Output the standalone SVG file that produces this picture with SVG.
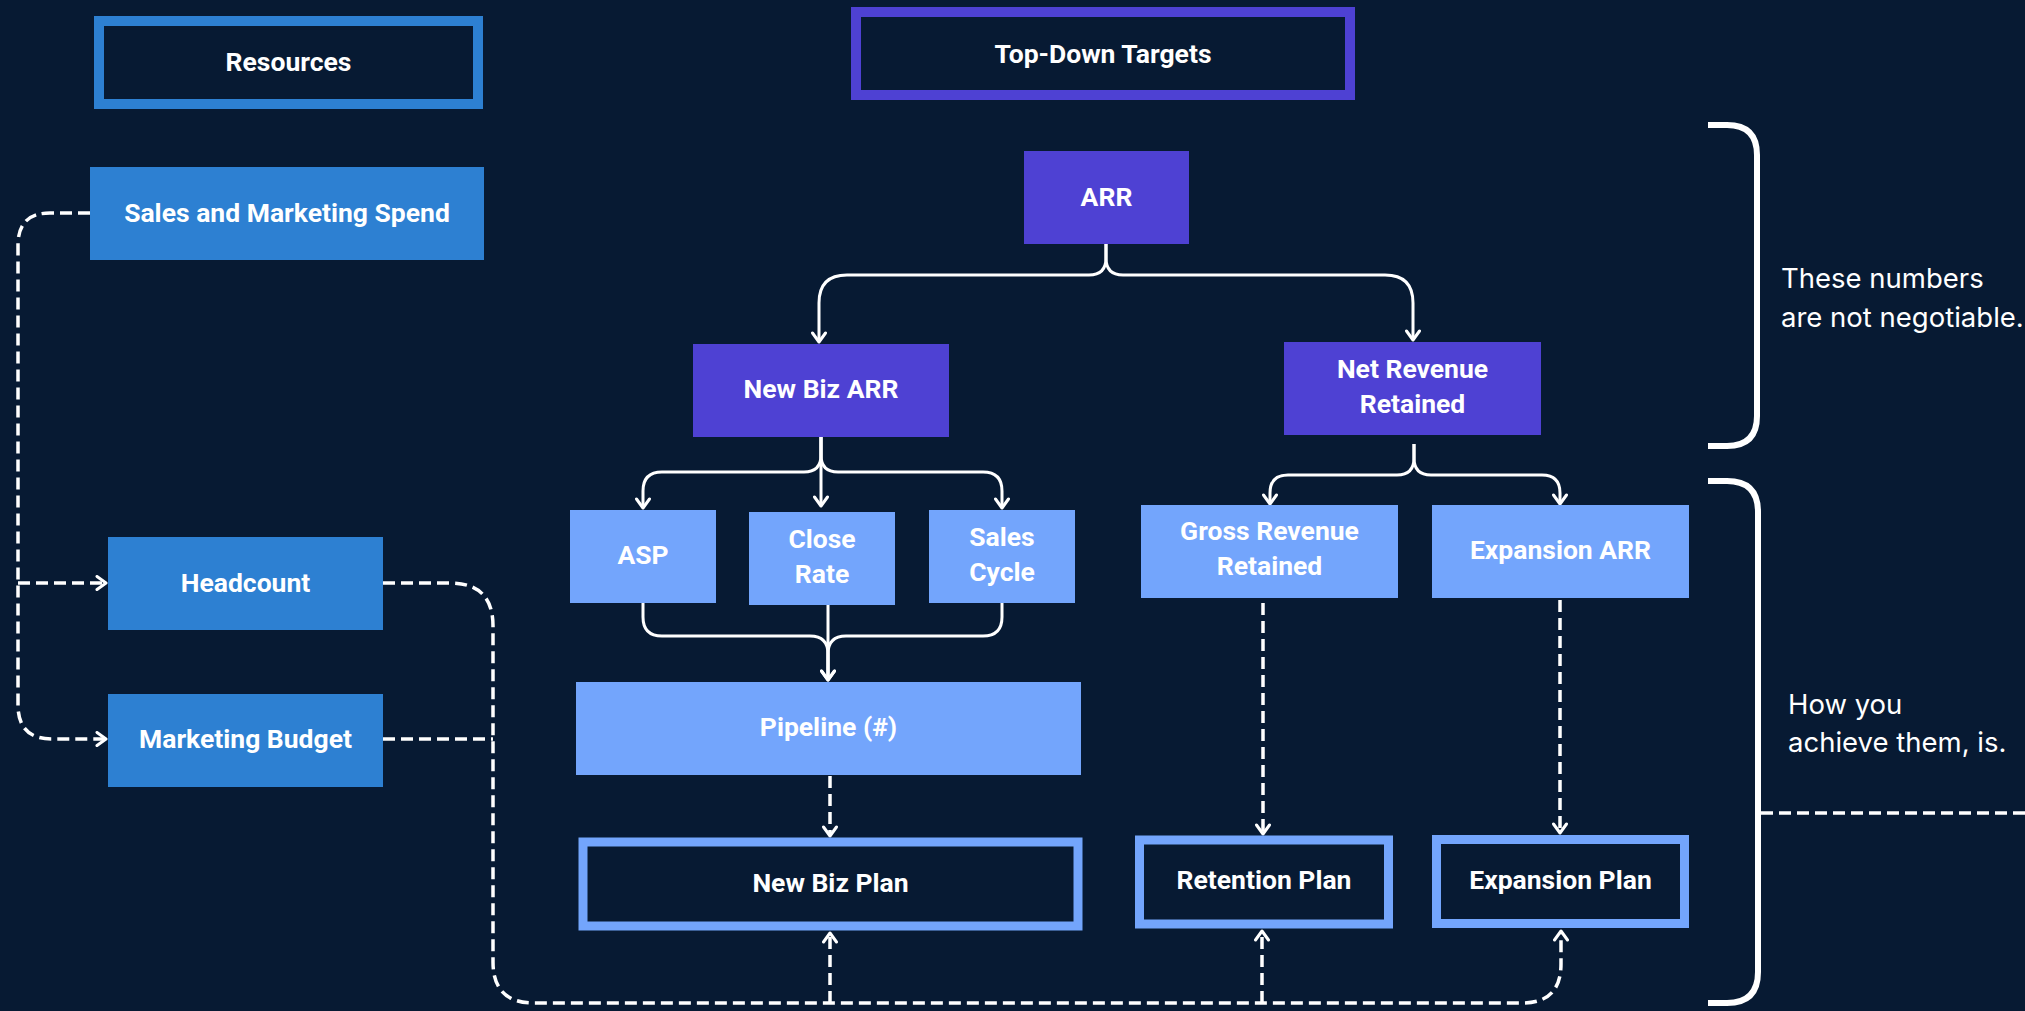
<svg xmlns="http://www.w3.org/2000/svg" width="2025" height="1011" viewBox="0 0 2025 1011">
<defs>
<style>
.bg{fill:#071a33}
.res{fill:#2d80d2}
.tgt{fill:#4e41d3}
.lt{fill:#73a5fc}
.hdr{fill:#071a33;stroke-width:10}
.plan{fill:#071a33;stroke:#73a5fc;stroke-width:9}
.t{font-family:Roboto,"Liberation Sans",sans-serif;font-weight:700;font-size:26.5px;fill:#ffffff;text-anchor:middle}
.note{font-family:Inter,"Liberation Sans",sans-serif;font-weight:400;font-size:27.5px;fill:#ffffff}
.ln{fill:none;stroke:#ffffff;stroke-width:3}
.dl{fill:none;stroke:#ffffff;stroke-width:3.5;stroke-dasharray:12 6}
.br{fill:none;stroke:#ffffff;stroke-width:6}
</style>
<marker id="ah" viewBox="0 0 16 16" refX="13" refY="8" markerWidth="16" markerHeight="16" markerUnits="userSpaceOnUse" orient="auto">
<path d="M4 1.5 L13 8 L4 14.5" fill="none" stroke="#ffffff" stroke-width="3" stroke-linecap="round" stroke-linejoin="round"/>
</marker>
</defs>
<rect class="bg" x="0" y="0" width="2025" height="1011"/>

<g id="connectors">
<path class="ln" d="M1106 244 V258 Q1106 275 1089 275 H847 Q819 275 819 303 V342" marker-end="url(#ah)"/>
<path class="ln" d="M1106 244 V258 Q1106 275 1123 275 H1385 Q1413 275 1413 303 V340" marker-end="url(#ah)"/>
<path class="ln" d="M821 437 V455 Q821 472 804 472 H662 Q643 472 643 491 V508" marker-end="url(#ah)"/>
<path class="ln" d="M821 437 V506" marker-end="url(#ah)"/>
<path class="ln" d="M821 437 V455 Q821 472 838 472 H983 Q1002 472 1002 491 V508" marker-end="url(#ah)"/>
<path class="ln" d="M643 603 V617 Q643 636 662 636 H810 Q828 636 828 654 V680" marker-end="url(#ah)"/>
<path class="ln" d="M828 605 V680" marker-end="url(#ah)"/>
<path class="ln" d="M1002 603 V617 Q1002 636 983 636 H846 Q828 636 828 654 V680"/>
<path class="ln" d="M1414 444 V458 Q1414 475 1397 475 H1288 Q1270 475 1270 493 V504" marker-end="url(#ah)"/>
<path class="ln" d="M1414 444 V458 Q1414 475 1431 475 H1542 Q1560 475 1560 493 V504" marker-end="url(#ah)"/>
<path class="dl" d="M830 776 V836" marker-end="url(#ah)"/>
<path class="dl" d="M1263 603 V834" marker-end="url(#ah)"/>
<path class="dl" d="M1560 600 V833" marker-end="url(#ah)"/>
<path class="dl" d="M90 213 H50 Q18 213 18 245 V705 Q18 739 52 739 H106" marker-end="url(#ah)"/>
<path class="dl" d="M18 583 H106" marker-end="url(#ah)"/>
<path class="dl" d="M383 583 H450 Q493 583 493 626 V962 Q493 1003 534 1003 H1522 Q1561 1003 1561 964 V931" marker-end="url(#ah)"/>
<path class="dl" d="M383 739 H493"/>
<path class="dl" d="M830 1003 V933" marker-end="url(#ah)"/>
<path class="dl" d="M1262 1003 V931" marker-end="url(#ah)"/>
</g>

<g id="brackets">
<path class="br" d="M1708 125 H1727 Q1757 125 1757 155 V416 Q1757 446 1727 446 H1708"/>
<path class="br" d="M1708 481 H1727 Q1758 481 1758 512 V972 Q1758 1003 1727 1003 H1708"/>
<path class="dl" d="M1761 813 H2025"/>
<text class="note" x="1781" y="288">These numbers</text>
<text class="note" x="1781" y="327">are not negotiable.</text>
<text class="note" x="1788" y="714">How you</text>
<text class="note" x="1788" y="752">achieve them, is.</text>
</g>

<g id="resources-header"><rect class="hdr" x="99" y="21" width="379" height="83" stroke="#2d80d2"/><text class="t" x="288.5" y="71">Resources</text></g>
<g id="targets-header"><rect class="hdr" x="856" y="12" width="494" height="83" stroke="#4e41d3"/><text class="t" x="1103" y="63">Top-Down Targets</text></g>

<g id="sales-marketing-spend"><rect class="res" x="90" y="167" width="394" height="93"/><text class="t" x="287" y="222">Sales and Marketing Spend</text></g>
<g id="headcount"><rect class="res" x="108" y="537" width="275" height="93"/><text class="t" x="245.5" y="592">Headcount</text></g>
<g id="marketing-budget"><rect class="res" x="108" y="694" width="275" height="93"/><text class="t" x="245.5" y="748">Marketing Budget</text></g>

<g id="arr"><rect class="tgt" x="1024" y="151" width="165" height="93"/><text class="t" x="1106.5" y="206">ARR</text></g>
<g id="new-biz-arr"><rect class="tgt" x="693" y="344" width="256" height="93"/><text class="t" x="821" y="398">New Biz ARR</text></g>
<g id="net-revenue-retained"><rect class="tgt" x="1284" y="342" width="257" height="93"/><text class="t" x="1412.5" y="378">Net Revenue</text><text class="t" x="1412.5" y="413">Retained</text></g>

<g id="asp"><rect class="lt" x="570" y="510" width="146" height="93"/><text class="t" x="643" y="564">ASP</text></g>
<g id="close-rate"><rect class="lt" x="749" y="512" width="146" height="93"/><text class="t" x="822" y="548">Close</text><text class="t" x="822" y="583">Rate</text></g>
<g id="sales-cycle"><rect class="lt" x="929" y="510" width="146" height="93"/><text class="t" x="1002" y="546">Sales</text><text class="t" x="1002" y="581">Cycle</text></g>
<g id="gross-revenue-retained"><rect class="lt" x="1141" y="505" width="257" height="93"/><text class="t" x="1269.5" y="540">Gross Revenue</text><text class="t" x="1269.5" y="575">Retained</text></g>
<g id="expansion-arr"><rect class="lt" x="1432" y="505" width="257" height="93"/><text class="t" x="1560.5" y="559">Expansion ARR</text></g>
<g id="pipeline"><rect class="lt" x="576" y="682" width="505" height="93"/><text class="t" x="828.5" y="736">Pipeline (#)</text></g>

<g id="new-biz-plan"><rect class="plan" x="583" y="842" width="495" height="84"/><text class="t" x="830.5" y="892">New Biz Plan</text></g>
<g id="retention-plan"><rect class="plan" x="1139.5" y="840" width="249" height="84"/><text class="t" x="1264" y="889">Retention Plan</text></g>
<g id="expansion-plan"><rect class="plan" x="1436.5" y="839.5" width="248" height="84"/><text class="t" x="1560.5" y="889">Expansion Plan</text></g>
</svg>
